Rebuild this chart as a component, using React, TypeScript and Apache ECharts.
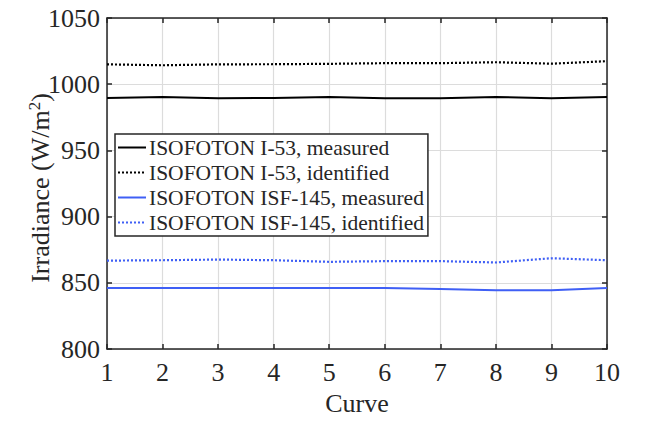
import React, { useEffect, useRef } from "react";
import * as echarts from "echarts";

const curves = [1, 2, 3, 4, 5, 6, 7, 8, 9, 10];
const i53Measured = [989.6, 990.4, 989.5, 989.6, 990.4, 989.5, 989.5, 990.4, 989.5, 990.3];
const i53Identified = [1015.0, 1014.3, 1015.0, 1015.1, 1015.4, 1015.9, 1015.9, 1016.6, 1015.5, 1017.4];
const isfMeasured = [846.1, 846.1, 846.1, 846.1, 846.1, 846.1, 845.3, 844.4, 844.4, 846.1];
const isfIdentified = [866.8, 867.1, 867.6, 867.1, 865.9, 866.4, 866.4, 865.4, 868.6, 867.1];
const yTicks = [800, 850, 900, 950, 1000, 1050];

const seriesNames = [
  "ISOFOTON I-53, measured",
  "ISOFOTON I-53, identified",
  "ISOFOTON ISF-145, measured",
  "ISOFOTON ISF-145, identified",
];

const FONT = "Liberation Serif";
const BLUE = "#3f5ff5";
const INK = "#262626";

export default function App() {
  const ref = useRef<HTMLDivElement>(null);
  useEffect(() => {
    if (!ref.current) return;
    const chart = echarts.init(ref.current, undefined, { renderer: "svg" });
    const pair = (arr: number[]) => curves.map((c, i) => [c, arr[i]]);
    const mk = (name: string, arr: number[], color: string, solid: boolean) => ({
      name,
      type: "line",
      data: pair(arr),
      symbol: "none",
      lineStyle: { color, width: solid ? 2 : 2.2, type: solid ? "solid" : [2, 2] },
      itemStyle: { color },
      z: 5,
    });
    const axisCommon = {
      axisLine: { show: true, lineStyle: { color: INK, width: 1.5 } },
      axisTick: { show: true, inside: true, length: 5, lineStyle: { color: INK, width: 1.5 } },
    };
    chart.setOption({
      animation: false,
      backgroundColor: "#fff",
      grid: { left: 107, right: 47, top: 18, bottom: 67 },
      xAxis: [
        {
          type: "value",
          min: 1,
          max: 10,
          interval: 1,
          ...axisCommon,
          axisLabel: { color: INK, fontFamily: FONT, fontSize: 26, margin: 10 },
          splitLine: { show: true, lineStyle: { color: "#dcdcdc", width: 1.2 } },
          name: "Curve",
          nameLocation: "middle",
          nameGap: 40,
          nameTextStyle: { color: INK, fontFamily: FONT, fontSize: 26 },
        },
        {
          type: "value",
          position: "top",
          min: 1,
          max: 10,
          interval: 1,
          ...axisCommon,
          axisLabel: { show: false },
          splitLine: { show: false },
        },
      ],
      yAxis: [
        {
          type: "value",
          min: 800,
          max: 1050,
          interval: 50,
          ...axisCommon,
          axisLabel: {
            color: INK,
            fontFamily: FONT,
            fontSize: 26,
            margin: 7,
            formatter: (v: number) => (yTicks.includes(v) ? String(v) : ""),
          },
          splitLine: { show: true, lineStyle: { color: "#dcdcdc", width: 1.2 } },
        },
        {
          type: "value",
          position: "right",
          min: 800,
          max: 1050,
          interval: 50,
          ...axisCommon,
          axisLabel: { show: false },
          splitLine: { show: false },
        },
      ],
      legend: {
        orient: "vertical",
        left: 115,
        top: 134,
        itemWidth: 28,
        itemHeight: 12,
        itemGap: 0,
        padding: [1, 4, 1, 2],
        backgroundColor: "#fff",
        borderColor: INK,
        borderWidth: 1.5,
        borderRadius: 0,
        itemStyle: { opacity: 0 },
        textStyle: { color: INK, fontFamily: FONT, fontSize: 21.5, padding: [0, 0, 0, -2], lineHeight: 25 },
        data: seriesNames,
      },
      graphic: [
        {
          type: "text",
          x: 40,
          y: 188,
          rotation: Math.PI / 2,
          style: {
            text: "Irradiance (W/m{sup|2})",
            fill: INK,
            fontFamily: FONT,
            fontSize: 26,
            align: "center",
            verticalAlign: "middle",
            rich: {
              sup: { fontFamily: FONT, fontSize: 17, verticalAlign: "top", padding: [0, 0, 12, 0], fill: INK },
            },
          },
        },
      ],
      series: [
        mk(seriesNames[0], i53Measured, "#000", true),
        mk(seriesNames[1], i53Identified, "#000", false),
        mk(seriesNames[2], isfMeasured, BLUE, true),
        mk(seriesNames[3], isfIdentified, BLUE, false),
      ],
    });
    return () => chart.dispose();
  }, []);
  return <div ref={ref} style={{ width: 654, height: 421, position: "absolute", left: 0, top: 0 }} />;
}
